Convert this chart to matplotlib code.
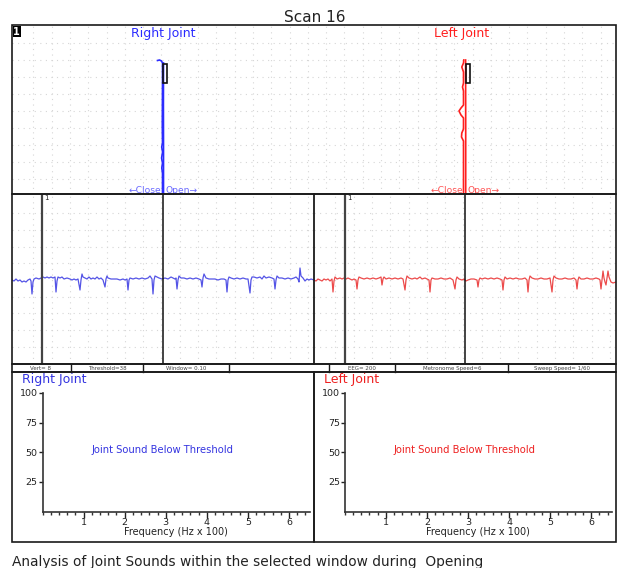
import numpy as np
import matplotlib.pyplot as plt
from matplotlib.patches import Rectangle
from matplotlib.ticker import MultipleLocator

W, H = 621, 568

# jaw tracking (panel units: x across, y down from top of panel)
right_open = [(151.5, 169), (151.5, 120), (151.4, 80), (151.5, 38)]
right_close = [(145.5, 35.5), (147.5, 35), (149.5, 36), (150.5, 38), (150.5, 60),
               (150.3, 100), (150.5, 118), (149.7, 122), (150.6, 127), (149.6, 133),
               (150.5, 138), (149.8, 143), (150.5, 148), (150.5, 169)]
left_open = [(453.7, 169), (453.7, 100), (453.6, 35)]
left_close = [(451.8, 35), (451.5, 38), (449.8, 42), (451.5, 47), (451.5, 58),
              (450.5, 62), (451.5, 66), (451.5, 80), (449, 83), (447, 86),
              (449, 90), (451.5, 93), (451.5, 104), (449.8, 108), (449.5, 112),
              (451.5, 116), (451.5, 169)]
right_window = (151.3, 39, 4.0, 19)
left_window = (453.7, 39, 4.3, 19)

# joint sound waveforms (sample, amplitude)
blue_wave = [(0, 0), (2, -1), (4, 1), (6, -1), (8, 0), (10, -2), (12, -1), (14, -2), (16, 0), (18, 1),
             (19, -1), (20, -14), (21, -2), (22, 1), (24, 2), (27, 1), (29, 2), (31, 3), (33, 2), (35, 3),
             (37, 2), (39, 3), (41, 2), (43, 3), (44, -12), (45, -1), (46, 3), (48, 2), (50, 3), (52, 1),
             (55, 2), (58, 1), (60, 0), (62, 1), (64, 0), (66, 1), (68, -10), (69, 0), (70, 6), (71, 3),
             (73, 2), (75, 1), (77, 3), (79, 1), (81, 2), (83, 1), (85, 3), (87, 1), (89, 2), (91, 0),
             (93, -7), (94, 1), (95, 4), (96, 2), (99, 1), (102, 1), (105, 1), (108, 0), (111, 1), (113, 0),
             (115, 1), (116, -10), (117, 0), (118, 2), (121, 1), (124, 2), (127, 1), (130, 2), (133, 1), (136, 2),
             (138, 4), (140, 1), (141, -14), (142, 0), (143, 4), (145, 3), (147, 2), (150, 1), (153, 2), (156, 1),
             (159, 3), (161, 2), (163, 1), (164, 2), (165, -9), (166, 0), (167, 4), (169, 2), (172, 2), (175, 1),
             (178, 2), (181, 1), (184, 2), (187, 1), (189, 0), (190, -7), (191, 2), (192, 6), (194, 2), (197, 1),
             (200, 1), (203, 1), (206, 0), (209, 1), (212, 1), (214, 0), (215, -12), (216, 0), (217, 3), (219, 2),
             (222, 1), (225, 2), (228, 1), (231, 2), (234, 1), (236, 1), (238, -13), (239, 0), (240, 3), (242, 3),
             (245, 2), (248, 3), (250, 1), (252, 4), (254, 2), (257, 3), (260, 2), (262, 1), (263, -9), (264, 0),
             (265, 4), (267, 2), (270, 2), (273, 1), (276, 2), (279, 1), (282, 2), (284, 3), (286, 1), (287, -2),
             (288, 12), (289, 4), (291, 2), (293, -1), (295, 1), (297, 0), (299, 1), (302, 0)]
red_wave = [(0, 0), (2, -1), (4, 1), (6, 0), (8, -1), (10, 1), (12, 0), (14, 1), (16, -1), (18, 1),
            (19, -12), (20, -1), (21, 3), (23, 1), (26, 2), (28, 1), (30, 2), (32, 1), (34, 2), (36, 1),
            (38, 0), (40, 1), (42, 0), (43, -9), (44, 0), (45, 3), (47, 2), (50, 1), (53, 2), (56, 1),
            (59, 2), (62, 1), (65, 2), (67, 3), (68, -5), (69, 1), (70, 3), (72, 1), (75, 2), (78, 1),
            (81, 2), (84, 1), (87, 2), (89, 1), (91, -10), (92, 0), (93, 4), (95, 2), (98, 1), (101, 2),
            (103, 1), (106, 3), (108, 1), (111, 2), (113, 1), (115, 0), (116, -12), (117, 0), (118, 2), (121, 1),
            (124, 1), (127, 2), (130, 1), (133, 1), (136, 2), (139, 0), (141, -9), (142, 0), (143, 3), (145, 1),
            (148, 0), (150, 1), (152, -1), (154, 0), (157, 1), (160, 1), (163, 0), (164, -7), (165, 0), (166, 2),
            (168, 1), (171, 2), (174, 1), (177, 2), (180, 1), (183, 2), (186, 1), (188, 0), (189, -10), (190, 0),
            (191, 3), (193, 1), (196, 2), (199, 1), (202, 2), (205, 1), (208, 1), (211, 2), (213, 0), (214, -12),
            (215, 0), (216, 4), (218, 2), (221, 1), (224, 1), (227, 2), (230, 1), (233, 1), (236, 2), (238, -12),
            (239, 0), (240, 4), (242, 2), (245, 1), (248, 1), (251, 2), (254, 1), (257, 1), (260, 2), (262, 0),
            (263, -9), (264, 0), (265, 3), (267, 1), (270, 1), (273, 2), (276, 1), (279, 1), (282, 2), (285, 1),
            (286, 0), (287, -9), (288, 0), (289, 9), (290, 2), (291, -2), (292, -5), (293, 2), (294, 9), (295, 3),
            (297, -2), (299, -3), (302, -2)]
right_cursors = [30, 151]
left_cursors = [30.5, 151.3]

freq_ticks = [1, 2, 3, 4, 5, 6]
amp_ticks = [25, 50, 75, 100]
right_status = ['Vert= 8', 'Threshold=38', 'Window= 0.10']
left_status = ['EEG= 200', 'Metronome Speed=6', 'Sweep Speed= 1/60']

BLUE = '#2b2bff'
RED = '#ff1f1f'

fig = plt.figure(figsize=(W / 100, H / 100), dpi=100)


def px_axes(x0, y0, x1, y1, **kw):
    return fig.add_axes([x0 / W, 1 - y1 / H, (x1 - x0) / W, (y1 - y0) / H], **kw)


def dotted_grid(ax, xs, ys):
    for x in xs:
        ax.axvline(x, color='#d6d6d6', lw=0.8, ls=(0, (1, 4)), zorder=0)
    for y in ys:
        ax.axhline(y, color='#d6d6d6', lw=0.8, ls=(0, (1, 4)), zorder=0)


# ---- top panel: jaw tracking ----
top = px_axes(12, 25, 616, 194)
top.set_xlim(0, 604)
top.set_ylim(169, 0)
top.axis('off')
dotted_grid(top, np.arange(21.3, 604, 18.3), np.arange(18.3, 160, 16.95))
for path, c in [(right_open, BLUE), (right_close, BLUE), (left_open, RED), (left_close, RED)]:
    xs, ys = zip(*path)
    top.plot(xs, ys, color=c, lw=1.2)
for x, y, w, h in [right_window, left_window]:
    top.add_patch(Rectangle((x, y), w, h, fill=False, ec='#111111', lw=1.2, zorder=5))
top.text(151, 9, 'Right Joint', color=BLUE, fontsize=9, ha='center', va='center')
top.text(450, 9, 'Left Joint', color=RED, fontsize=9, ha='center', va='center')
top.text(149, 165.5, '\u2190Close', color='#6a6aff', fontsize=6.6, ha='right', va='center')
top.text(153.5, 165.5, 'Open\u2192', color='#6a6aff', fontsize=6.6, ha='left', va='center')
top.text(451, 165.5, '\u2190Close', color='#ff5555', fontsize=6.6, ha='right', va='center')
top.text(455.5, 165.5, 'Open\u2192', color='#ff5555', fontsize=6.6, ha='left', va='center')

# ---- middle panel: waveforms ----
for x0, wave, col, curs in [(12, blue_wave, '#5454e6', right_cursors),
                            (314, red_wave, '#ec4a4a', left_cursors)]:
    ax = px_axes(x0, 194, x0 + 302, 364)
    ax.set_xlim(0, 302)
    ax.set_ylim(-84, 86)
    ax.axis('off')
    dotted_grid(ax, np.arange(21.3, 302, 18.3), [-66.7, -50, -33.3, -16.7, 16.7, 33.3, 50, 66.7])
    xs, ys = zip(*wave)
    ax.plot(xs, ys, color=col, lw=0.9, zorder=3)
    ax.axvline(curs[0], color='#444444', lw=1.6, zorder=4)
    ax.axvline(curs[1], color='#111111', lw=1.1, zorder=4)
    ax.text(curs[0] + 2.5, 82, '1', fontsize=5, ha='left', va='center', color='#222222')

# ---- bottom panels: frequency spectra ----
for x0, label, col in [(42.5, 'Right Joint', '#3434e0'), (344.8, 'Left Joint', '#ee2020')]:
    ax = px_axes(x0, 393, x0 + 267, 511.5)
    ax.set_facecolor('none')
    ax.set_xlim(0, 6.5)
    ax.set_ylim(0, 100)
    for s in ['top', 'right']:
        ax.spines[s].set_visible(False)
    for s in ['left', 'bottom']:
        ax.spines[s].set_linewidth(1.2)
        ax.spines[s].set_color('#333333')
    ax.set_xticks(freq_ticks)
    ax.set_yticks(amp_ticks)
    ax.xaxis.set_minor_locator(MultipleLocator(0.2))
    ax.tick_params(axis='x', which='major', length=4, width=1, labelsize=6.8, pad=1, colors='#222222')
    ax.tick_params(axis='x', which='minor', length=2, width=1, colors='#333333')
    ax.tick_params(axis='y', which='major', length=3, width=1, labelsize=6.8, pad=0.5, colors='#222222')
    ax.set_xlabel('Frequency (Hz x 100)', fontsize=7, labelpad=0, color='#222222')
    ax.text(0.45, 0.52, 'Joint Sound Below Threshold', transform=ax.transAxes,
            color=col, fontsize=7.2, ha='center', va='center')
    ax.text(-20.5 / 41.1, 111.5, label, color=col, fontsize=9, ha='left', va='center')

# ---- frames, status bar and captions (figure pixel space) ----
ov = px_axes(0, 0, W, H, zorder=10)
ov.set_facecolor('none')
ov.set_xlim(0, W)
ov.set_ylim(H, 0)
ov.axis('off')
for (x0, y0, x1, y1) in [(12, 25, 616, 194), (12, 194, 616, 364), (12, 364, 616, 372),
                         (12, 372, 314, 542), (314, 372, 616, 542)]:
    ov.add_patch(Rectangle((x0, y0), x1 - x0, y1 - y0, fill=False, ec='#1a1a1a', lw=1.2))
ov.plot([314, 314], [194, 364], color='#1a1a1a', lw=1.3)
for x in [71, 143, 229, 329, 395, 508]:
    ov.plot([x, x], [364, 372], color='#1a1a1a', lw=1.0)
for x, t in zip([41, 107, 186], right_status):
    ov.text(x, 368.3, t, fontsize=4, ha='center', va='center', color='#444444')
for x, t in zip([362, 452, 562], left_status):
    ov.text(x, 368.3, t, fontsize=4, ha='center', va='center', color='#444444')
ov.add_patch(Rectangle((12.5, 26), 8, 11, fc='black', ec='none'))
ov.text(16.5, 31.7, '1', color='white', fontsize=7, fontweight='bold', ha='center', va='center')
ov.text(315, 18, 'Scan 16', fontsize=11, ha='center', va='center', color='#222222')
ov.text(12, 562, 'Analysis of Joint Sounds within the selected window during  Opening',
        fontsize=9.9, ha='left', va='center', color='#222222')

fig.savefig('out.png', dpi=100)
